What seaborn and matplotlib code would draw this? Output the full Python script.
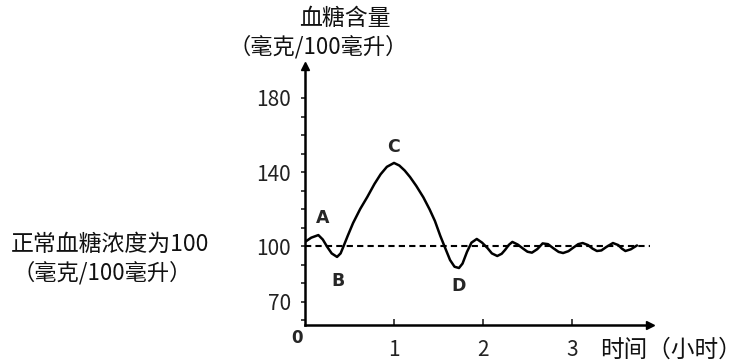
import numpy as np
import pandas as pd
import seaborn as sns
import matplotlib.pyplot as plt

# --- data ---
hours = [0.00, 0.07, 0.15, 0.20, 0.25, 0.30, 0.36, 0.40, 0.43, 0.48,
         0.54, 0.62, 0.70, 0.78, 0.85, 0.92, 1.00, 1.06, 1.12, 1.18,
         1.25, 1.33, 1.40, 1.46, 1.52, 1.57, 1.63, 1.68, 1.73, 1.77,
         1.82, 1.87, 1.93, 1.99, 2.05, 2.10, 2.16, 2.21, 2.25, 2.29,
         2.33, 2.39, 2.45, 2.50, 2.55, 2.61, 2.67, 2.73, 2.79, 2.85,
         2.90, 2.96, 3.02, 3.07, 3.12, 3.18, 3.23, 3.28, 3.33, 3.39,
         3.46, 3.52, 3.56, 3.60, 3.66, 3.73]
glucose = [102.2, 104.5, 105.9, 103.5, 99.5, 96.0, 94.1, 96.0, 99.5, 105.5,
           112.4, 120.0, 126.5, 133.5, 138.8, 142.8, 144.9, 143.5, 140.8, 137.3,
           132.5, 126.3, 119.8, 113.5, 105.5, 99.5, 92.4, 88.8, 88.1, 90.5,
           96.8, 101.8, 103.8, 101.8, 98.9, 96.0, 94.6, 95.8, 98.0, 100.6,
           102.2, 100.8, 98.6, 96.9, 96.4, 98.3, 101.4, 101.0, 98.8, 96.8,
           96.2, 97.2, 99.3, 101.0, 101.6, 100.5, 98.6, 97.3, 97.6, 99.6,
           101.6, 100.5, 98.6, 97.3, 98.2, 100.3]
normal_level = 100
y_labels = [70, 100, 140, 180]
x_labels = [1, 2, 3]
points = ["A", "B", "C", "D"]
point_hours = [0.20, 0.37, 1.00, 1.72]
point_values = [115.0, 81.0, 153.5, 78.5]

df = pd.DataFrame({"hours": hours, "glucose": glucose})

sns.set_style("white")
plt.rcParams["font.family"] = ["Noto Sans CJK SC", "DejaVu Sans"]

W, H = 752, 363
fig = plt.figure(figsize=(W / 100, H / 100), dpi=100)


def px(x, y):
    return x / W, 1 - y / H


# axes box: y axis at x=305px, x axis at y=325px
ax = fig.add_axes([305 / W, 1 - 325 / H, 345 / W, 259 / H])
ax.set_xlim(0, 345 / 89)
ax.set_ylim(100 - 79 / 1.85, 100 + 180 / 1.85)

sns.lineplot(data=df, x="hours", y="glucose", ax=ax, color="black", lw=1.8)
ax.axhline(normal_level, xmin=0, xmax=1, color="black", lw=1.5,
           linestyle=(0, (3, 2)))

for lab, xh, yv in zip(points, point_hours, point_values):
    ax.text(xh, yv, lab, ha="center", va="center", fontsize=12.5,
            fontweight="bold", family="DejaVu Sans")

# spines and arrows
for s in ["top", "right"]:
    ax.spines[s].set_visible(False)
for s in ["left", "bottom"]:
    ax.spines[s].set_linewidth(1.8)
    ax.spines[s].set_color("black")
ax.plot(0, 1, "^k", transform=ax.transAxes, clip_on=False, ms=6)
ax.plot(1, 0, ">k", transform=ax.transAxes, clip_on=False, ms=6)

ax.set_yticks(np.arange(60, 190, 10), minor=True)
ax.set_yticks(y_labels)
ax.set_yticklabels([str(v) for v in y_labels], fontsize=15, color="#222222")
ax.tick_params(axis="y", which="both", left=True, direction="out",
               length=3, width=1.2, pad=7, colors="#222222")
ax.tick_params(axis="y", labelcolor="#222222")
ax.set_xticks(x_labels)
ax.set_xticklabels([str(v) for v in x_labels], fontsize=15, color="#222222")
ax.tick_params(axis="x", bottom=True, direction="in", length=4, width=1.2,
               pad=10)
ax.set_xlabel("")
ax.set_ylabel("")

# texts
fig.text(*px(345, 18), "血糖含量", ha="center", va="center", fontsize=16.5,
         color="#111111")
fig.text(*px(318, 47), "（毫克/100毫升）", ha="center", va="center",
         fontsize=16, color="#111111")
fig.text(*px(11, 244), "正常血糖浓度为100", ha="left", va="center",
         fontsize=16.5, color="#111111")
fig.text(*px(12, 273), "（毫克/100毫升）", ha="left", va="center",
         fontsize=16, color="#111111")
fig.text(*px(600, 350), "时间（小时）", ha="left", va="center", fontsize=17,
         color="#111111")
fig.text(*px(297, 338), "0", ha="center", va="center", fontsize=12,
         fontweight="bold", family="DejaVu Sans")

fig.savefig("out.png", dpi=100)
